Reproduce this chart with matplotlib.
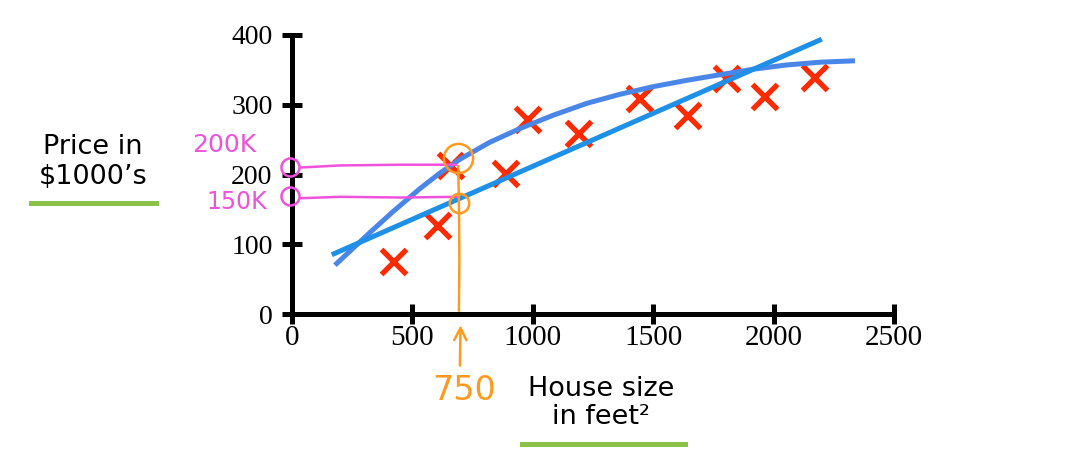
import numpy as np
import matplotlib.pyplot as plt

# house data
size_sqft = [421, 601, 656, 885, 975, 1189, 1443, 1642, 1802, 1960, 2169]
price_k = [76, 128, 214, 202, 279, 259, 309, 285, 338, 313, 340]

# straight-line fit (end points)
line_x = [165, 2200]
line_y = [85, 394]

# curved fit, points
curve_x = [178, 324, 420, 532, 610, 698, 820, 947, 1085, 1224, 1362, 1501,
           1639, 1777, 1916, 2054, 2193, 2338]
curve_y = [70, 117, 147, 180, 201, 222, 246, 266, 285, 302, 315, 326,
           335, 343, 351, 357, 361, 363]

xticks = [0, 500, 1000, 1500, 2000, 2500]
yticks = [0, 100, 200, 300, 400]

# hand drawn notes
pink_hi_x = [35, 200, 450, 680]
pink_hi_y = [210, 213, 214, 214]
pink_lo_x = [35, 200, 450, 690]
pink_lo_y = [166, 168, 167, 168]
guess_x = 693
guess_hi = 224
guess_lo = 159

red = '#ff2a00'
line_col = '#1e90e8'
curve_col = '#4a86e8'
pink = '#f052dc'
orange = '#ff9a1f'
green = '#8bc34a'

fig = plt.figure(figsize=(10.69, 4.76), dpi=100)
ax = fig.add_axes([0.2732, 0.3403, 0.5631, 0.5862])

ax.plot(size_sqft, price_k, 'x', color=red, ms=18, mew=3.8, zorder=3)
ax.plot(curve_x, curve_y, color=curve_col, lw=3.6, solid_capstyle='butt',
        solid_joinstyle='round', zorder=4)
ax.plot(line_x, line_y, color=line_col, lw=3.6, solid_capstyle='butt', zorder=5)

ax.set_xlim(0, 2500)
ax.set_ylim(0, 400)
ax.set_xticks(xticks)
ax.set_yticks(yticks)
ax.set_xticklabels([str(t) for t in xticks], family='Liberation Serif', fontsize=21)
ax.set_yticklabels([str(t) for t in yticks], family='Liberation Serif', fontsize=20)
ax.tick_params(direction='inout', length=14, width=3.6, color='black')
ax.tick_params(axis='x', pad=1)
ax.tick_params(axis='y', pad=7)
for s in ['top', 'right']:
    ax.spines[s].set_visible(False)
for s in ['left', 'bottom']:
    ax.spines[s].set_linewidth(3.6)
    ax.spines[s].set_capstyle('butt')

# pink notes on the y axis
ax.plot(pink_hi_x, pink_hi_y, color=pink, lw=1.8, zorder=6, clip_on=False)
ax.plot(pink_lo_x, pink_lo_y, color=pink, lw=1.8, zorder=6, clip_on=False)
ax.plot([-8, -8], [211, 169], 'o', mfc='none', mec=pink, ms=13, mew=1.8,
        zorder=6, clip_on=False)
ax.text(-282, 243, '200K', color=pink, fontsize=18, ha='center', va='center')
ax.text(-228, 161, '150K', color=pink, fontsize=17, ha='center', va='center')

# orange notes at 750
ax.plot([guess_x - 3, guess_x, guess_x + 2, guess_x], [212, 160, 80, 5],
        color=orange, lw=1.8, zorder=6, clip_on=False)
ax.plot([guess_x - 4], [guess_hi], 'o', mfc='none', mec=orange, ms=21, mew=1.8,
        zorder=6, clip_on=False)
ax.plot([guess_x], [guess_lo], 'o', mfc='none', mec=orange, ms=14, mew=1.8,
        zorder=6, clip_on=False)
ax.annotate('', xy=(700, -12), xytext=(697, -78), annotation_clip=False,
            arrowprops=dict(arrowstyle='->', color=orange, lw=1.8,
                            mutation_scale=22))
ax.text(713, -109, '750', color=orange, fontsize=24, ha='center', va='center')

# axis titles with green underlines
fig.text(93 / 1069, 1 - 162 / 476, 'Price in\n$1000’s', fontsize=19.5,
         ha='center', va='center', linespacing=1.15)
fig.text(601 / 1069, 1 - 403 / 476, 'House size\nin feet²', fontsize=19.5,
         ha='center', va='center', linespacing=1.15)
fig.add_artist(plt.Line2D([31 / 1069, 156 / 1069], [1 - 203 / 476, 1 - 203 / 476],
                          color=green, lw=3.6))
fig.add_artist(plt.Line2D([522 / 1069, 685 / 1069], [1 - 444 / 476, 1 - 444 / 476],
                          color=green, lw=3.6))

fig.savefig('out.png', dpi=100)
